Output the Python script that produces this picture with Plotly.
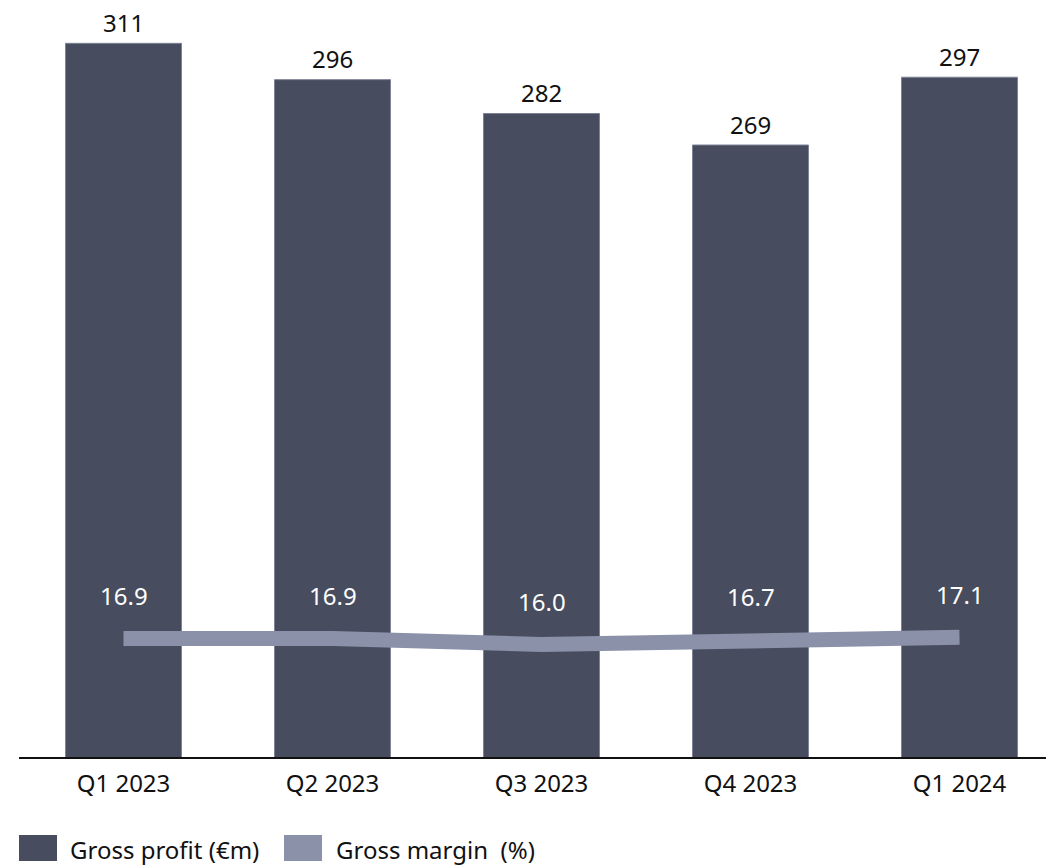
import plotly.graph_objects as go

# Quarterly gross profit and gross margin
quarters = ["Q1 2023", "Q2 2023", "Q3 2023", "Q4 2023", "Q1 2024"]
gross_profit = [311, 296, 282, 269, 297]          # €m
gross_margin = [16.9, 16.9, 16.0, 16.7, 17.1]      # %

BAR_COLOR = "#474d5e"
LINE_COLOR = "#8c91aa"
FONT = "Noto Sans"

W, H = 1046, 865
ML, MR, MT, MB = 19, 0, 0, 108
PW, PH = W - ML - MR, H - MT - MB


def px_x(x):
    return (x - ML) / PW


def px_y(y):
    return (H - MB - y) / PH


fig = go.Figure()

fig.add_trace(go.Bar(
    x=quarters, y=gross_profit, name="Gross profit (€m)",
    marker=dict(color=BAR_COLOR, line=dict(color="#7d8296", width=1)),
    width=0.555, yaxis="y", showlegend=False, hoverinfo="skip",
))

fig.add_trace(go.Scatter(
    x=quarters, y=gross_margin, name="Gross margin  (%)",
    mode="lines", line=dict(color=LINE_COLOR, width=15),
    yaxis="y2", showlegend=False, hoverinfo="skip",
))

annotations = []
for q, v in zip(quarters, gross_profit):
    annotations.append(dict(
        x=q, y=v, xref="x", yref="y", text=str(v), showarrow=False,
        yanchor="middle", yshift=21, font=dict(size=24, color="#111111", family=FONT),
    ))
for q, v in zip(quarters, gross_margin):
    annotations.append(dict(
        x=q, y=v, xref="x", yref="y2", text=f"{v:.1f}", showarrow=False,
        yanchor="middle", yshift=43, font=dict(size=24, color="#ffffff", family=FONT),
    ))

# Legend drawn as swatches plus labels below the axis
legend_items = [("Gross profit (€m)", BAR_COLOR, 19, 57, 68),
                ("Gross margin\u00a0 (%)", LINE_COLOR, 284, 322, 334)]
shapes = []
for label, color, x0, x1, tx in legend_items:
    shapes.append(dict(type="rect", xref="paper", yref="paper",
                       x0=px_x(x0), x1=px_x(x1), y0=px_y(861), y1=px_y(835),
                       fillcolor=color, line=dict(width=0)))
    annotations.append(dict(
        x=px_x(tx), y=px_y(849), xref="paper", yref="paper", text=label,
        showarrow=False, xanchor="left", yanchor="middle",
        font=dict(size=24, color="#111111", family=FONT),
    ))

fig.update_layout(
    width=W, height=H,
    margin=dict(l=ML, r=MR, t=MT, b=MB, pad=0),
    paper_bgcolor="white", plot_bgcolor="white",
    font=dict(family=FONT, size=24, color="#111111"),
    bargap=0.445,
    xaxis=dict(
        type="category", range=[-0.5, -0.5 + PW / 209],
        showline=True, linecolor="#111111", linewidth=2,
        showgrid=False, ticks="", tickfont=dict(size=24, color="#111111"),
        ticklabelstandoff=4, zeroline=False,
    ),
    yaxis=dict(range=[16.2, 328.9], visible=False, showgrid=False, zeroline=False),
    yaxis2=dict(range=[-1.6, 116.7], overlaying="y", visible=False,
                showgrid=False, zeroline=False),
    shapes=shapes,
    annotations=annotations,
)

fig.write_html("out.html")
